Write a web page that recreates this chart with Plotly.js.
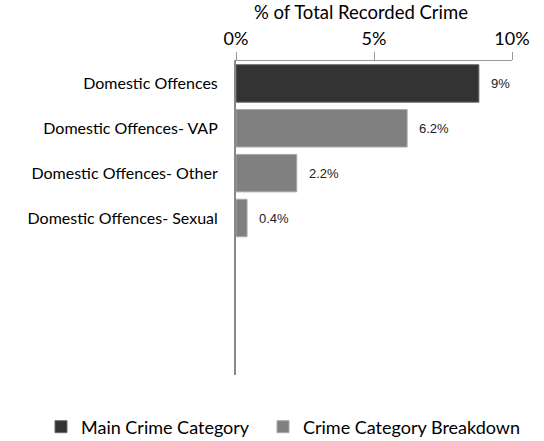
<!DOCTYPE html>
<html><head><meta charset="utf-8">
<script src="https://cdn.plot.ly/plotly-3.0.1.min.js"></script>
<style>body{margin:0;background:#fff}#chart{width:544px;height:441px}</style>
</head><body><div id="chart"></div>
<script>
const mainCategories = ["Domestic Offences"];
const mainValues = [8.8];
const mainLabels = ["9%"];
const breakdownCategories = ["Domestic Offences- VAP", "Domestic Offences- Other", "Domestic Offences- Sexual"];
const breakdownValues = [6.2, 2.2, 0.4];
const breakdownLabels = ["6.2%", "2.2%", "0.4%"];
const allCategories = mainCategories.concat(breakdownCategories);
const tickValues = [0, 5, 10];
const tickLabels = ["0%", "5%", "10%"];

const labelFont = "Lato, 'Open Sans', sans-serif";
const valueFont = {family:"'Liberation Sans', Arial, sans-serif", size:13, color:'#222'};
const traces = [
  {type:'bar', orientation:'h', name:'Main Crime Category', y:mainCategories, x:mainValues, legend:'legend',
   marker:{color:'#333333', line:{color:'#6a6a6a', width:1}}, hoverinfo:'skip'},
  {type:'bar', orientation:'h', name:'Crime Category Breakdown', y:breakdownCategories, x:breakdownValues, legend:'legend2',
   marker:{color:'#808080', line:{color:'#a8a8a8', width:1}}, hoverinfo:'skip'}
];
const annotations = [];
mainCategories.forEach((c,i)=>annotations.push({x:mainValues[i], y:c, text:mainLabels[i], showarrow:false, xanchor:'left', xshift:10, font:valueFont}));
breakdownCategories.forEach((c,i)=>annotations.push({x:breakdownValues[i], y:c, text:breakdownLabels[i], showarrow:false, xanchor:'left', xshift:10, font:valueFont}));

const legendBase = {orientation:'h', xref:'container', yref:'container', xanchor:'left', yanchor:'middle', y:14/441,
    font:{family:labelFont, size:18, color:'#000'}, itemwidth:30, bgcolor:'rgba(0,0,0,0)'};
const layout = {
  width:544, height:441,
  margin:{l:236, r:32, t:61, b:66, pad:0},
  paper_bgcolor:'#fff', plot_bgcolor:'#fff',
  barmode:'overlay', bargap:0.165,
  showlegend:true,
  font:{family:labelFont, color:'#000'},
  title:{text:'% of Total Recorded Crime', xref:'container', yref:'container', x:361/544, xanchor:'center', y:1-13/441, yanchor:'middle',
    font:{family:labelFont, size:18.5, color:'#000'}},
  xaxis:{side:'top', range:[0,10], tickvals:tickValues, ticktext:tickLabels, showgrid:false, zeroline:false,
    showline:true, linecolor:'#999', linewidth:1, ticks:'outside', ticklen:8, tickcolor:'#999',
    tickfont:{family:labelFont, size:18, color:'#000'}, fixedrange:true},
  yaxis:{type:'category', categoryorder:'array', categoryarray:allCategories, range:[6.5,-0.5],
    showgrid:false, zeroline:false, showline:true, linecolor:'#888', linewidth:2, ticks:'',
    tickfont:{family:labelFont, size:16, color:'#000'}, ticklabelstandoff:13, fixedrange:true},
  legend:Object.assign({}, legendBase, {x:41/544}),
  legend2:Object.assign({}, legendBase, {x:263/544}),
  annotations:annotations
};
Plotly.newPlot('chart', traces, layout, {displayModeBar:false, staticPlot:true});
</script></body></html>
